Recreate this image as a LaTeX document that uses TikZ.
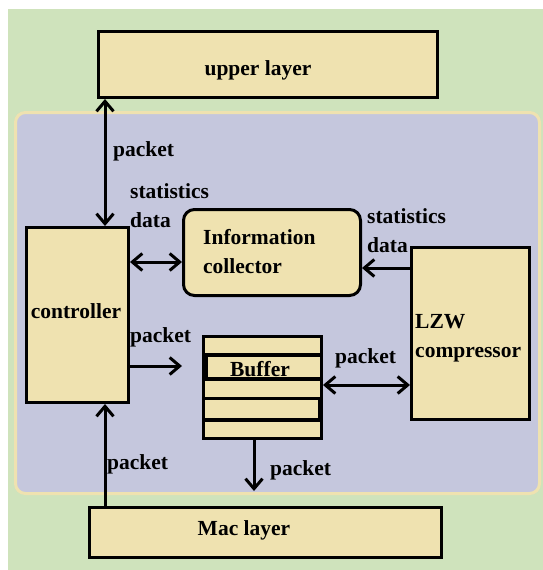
\documentclass[tikz,border=0pt]{standalone}
\usepackage{fontspec}
\setmainfont{Liberation Serif}
\usetikzlibrary{arrows.meta}
\definecolor{bggreen}{HTML}{CFE3BC}
\definecolor{panelblue}{HTML}{C5C7DD}
\definecolor{boxtan}{HTML}{EFE2B0}
\tikzset{
  box/.style={draw=black, fill=boxtan, line width=3pt, rectangle, inner sep=0pt},
  txt/.style={font=\fontsize{21.5}{29}\selectfont\bfseries, inner sep=0pt, align=left},
  arr/.style={line width=3pt, draw=black, arrows={-Straight Barb[length=10pt,width=17pt]}},
  biarr/.style={line width=3pt, draw=black,
    arrows={Straight Barb[length=10pt,width=17pt]-Straight Barb[length=10pt,width=17pt]}},
}
\begin{document}
\begin{tikzpicture}[x=1pt, y=-1pt]
\useasboundingbox (0,0) rectangle (543,570);

% backgrounds
\fill[bggreen] (8,9) rectangle (543,570);
\draw[fill=panelblue, draw=boxtan, line width=3pt, rounded corners=10pt]
  (15.5,112.5) rectangle (539.5,493.5);

% blocks
\node[box, minimum width=339pt, minimum height=66pt] (up) at (268,64.5) {};
\node[box, minimum width=352pt, minimum height=50pt] (mac) at (265.5,532.5) {};
\node[box, minimum width=102pt, minimum height=175pt] (ctrl) at (77.5,315) {};
\node[box, rounded corners=11pt, minimum width=177pt, minimum height=86pt] (info) at (272,252.5) {};
\node[box, minimum width=118pt, minimum height=172pt] (lzw) at (470.5,333.5) {};
\node[box, minimum width=118pt, minimum height=102pt] (buf) at (262.5,387.5) {};

% buffer slots
\foreach \yy in {355,379,398.5,420}
  \draw[line width=3.5pt] (buf.west |- 0,\yy) -- (buf.east |- 0,\yy);
\fill[black] (buf.west |- 0,356) rectangle (208,378);
\fill[black] (318,399) rectangle (buf.east |- 0,419);

% block texts
\node[txt] (uptxt) at (258,70) {upper layer};
\node[txt] (mactxt) at (244,530) {Mac layer};
\node[txt] (ctrltxt) at (76,311) {controller};
\node[txt, anchor=west] (infotxt) at (203,252) {Information\\collector};
\node[txt, anchor=west] (lzwtxt) at (415,338) {LZW\\compressor};
\node[txt] (buftxt) at (260,369) {Buffer};

% connectors
\coordinate (bufin) at (182,366);
\coordinate (bufout) at (254,491);
\draw[biarr] (ctrl.north -| 105,0) -- (up.south -| 105,0);
\draw[biarr] (ctrl.east |- 0,262) -- (info.west |- 0,262);
\draw[arr] (lzw.west |- 0,268) -- (info.east |- 0,268);
\draw[arr] (ctrl.east |- 0,366) -- (bufin);
\draw[biarr] (buf.east |- 0,385) -- (lzw.west |- 0,385);
\draw[arr] (buf.south -| bufout) -- (bufout);
\draw[arr] (mac.north -| 105,0) -- (ctrl.south -| 105,0);

% connector labels
\node[txt, anchor=west] (l1) at (113,151) {packet};
\node[txt, anchor=west] (l2) at (130,206) {statistics\\data};
\node[txt, anchor=west] (l3) at (367,231) {statistics\\data};
\node[txt, anchor=west] (l4) at (130,337) {packet};
\node[txt, anchor=west] (l5) at (335,358) {packet};
\node[txt, anchor=west] (l6) at (270,470) {packet};
\node[txt, anchor=west] (l7) at (107,464) {packet};
\end{tikzpicture}
\end{document}
